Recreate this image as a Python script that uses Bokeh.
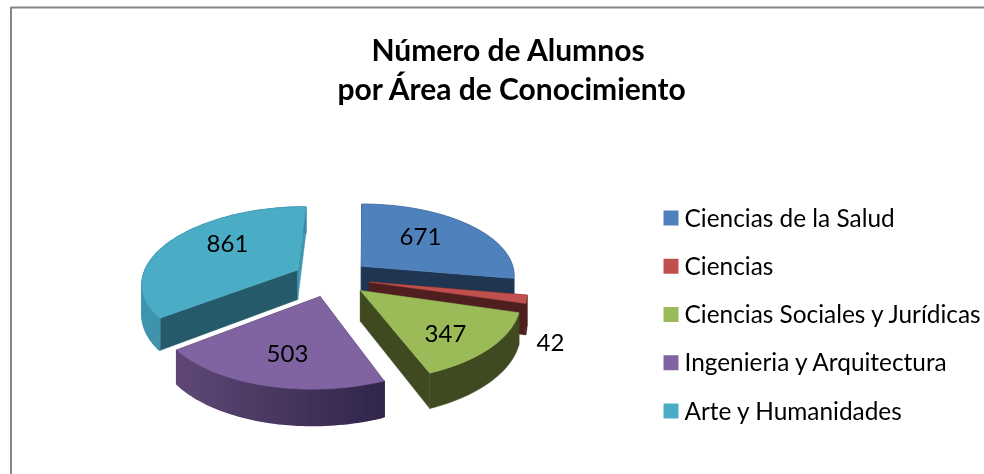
import math
from bokeh.plotting import figure
from bokeh.embed import file_html
from bokeh.resources import INLINE
from bokeh.core.properties import value

title_lines = ["Número de Alumnos", "por Área de Conocimiento"]
categories = ["Ciencias de la Salud", "Ciencias", "Ciencias Sociales y Jurídicas",
              "Ingenieria y Arquitectura", "Arte y Humanidades"]
values = [671, 42, 347, 503, 861]
top_colors = ["#4F81BD", "#C0504D", "#9BBB59", "#8064A2", "#4BACC6"]
face_colors = ["#1F3552", "#4F1F1F", "#404A21", "#3A2C4C", "#255A6A"]
rim_left = ["#1F3552", "#4F1F1F", "#404A21", "#5F4876", "#3F95AD"]
rim_right = ["#1F3552", "#4F1F1F", "#404A21", "#31254A", "#3A8AA0"]
label_xy = [(420, 236), (550, 342), (445, 333), (287, 353), (227, 243)]

W, H = 984, 474
p = figure(width=W, height=H, x_range=(0, W), y_range=(H, 0), output_backend="svg",
           toolbar_location=None, min_border=0, outline_line_color=None,
           background_fill_color="white", border_fill_color="white",
           styles={"position": "fixed", "left": "0px", "top": "0px"})
p.axis.visible = False
p.grid.visible = False

CX, CY, VX, RX, RY, K, EX, EY, DEPTH = 331, 277.5, 365, 155, 74, 0.14, 0.25, 0.25, 30


def proj(px, pv):
    s = 1 / (1 + K * pv)
    return VX + (CX - VX + RX * px) * s, CY - RY * pv * s, s


total = sum(values)
starts, a = [], 0.0
for v in values:
    starts.append(a)
    a += v / total * 2 * math.pi


def mix(c1, c2, t):
    a1 = [int(c1[i:i + 2], 16) for i in (1, 3, 5)]
    a2 = [int(c2[i:i + 2], 16) for i in (1, 3, 5)]
    return "#%02X%02X%02X" % tuple(round(x + (y - x) * t) for x, y in zip(a1, a2))


def draw(i):
    t1 = starts[i]
    t2 = t1 + values[i] / total * 2 * math.pi
    mid = (t1 + t2) / 2
    ox, ov = EX * math.sin(mid), EY * math.cos(mid)
    n = max(4, int((t2 - t1) * 40))
    rim = []
    for j in range(n + 1):
        t = t1 + (t2 - t1) * j / n
        rim.append(proj(ox + math.sin(t), ov + math.cos(t)))
    ax, ay, asc = proj(ox, ov)
    # cut faces
    for e in (rim[0], rim[-1]):
        col = face_colors[i]
        if i == 4 and e is rim[-1]:
            col = "#3F97B0"
        p.patch([ax, e[0], e[0], ax],
                [ay, e[1], e[1] + DEPTH * e[2], ay + DEPTH * asc],
                fill_color=col, line_color=col, line_width=0.5)
    # outer wall
    xmin, xmax = min(r[0] for r in rim), max(r[0] for r in rim)
    if rim_left[i] == rim_right[i]:
        xs = [r[0] for r in rim] + [r[0] for r in reversed(rim)]
        ys = [r[1] for r in rim] + [r[1] + DEPTH * r[2] for r in reversed(rim)]
        p.patch(xs, ys, fill_color=rim_left[i], line_color=rim_left[i], line_width=0.5)
    else:
        for j in range(n):
            r1, r2 = rim[j], rim[j + 1]
            c = mix(rim_left[i], rim_right[i], ((r1[0] + r2[0]) / 2 - xmin) / (xmax - xmin))
            p.patch([r1[0], r2[0], r2[0], r1[0]],
                    [r1[1], r2[1], r2[1] + DEPTH * r2[2], r1[1] + DEPTH * r1[2]],
                    fill_color=c, line_color=c, line_width=1.5)
    # top
    p.patch([ax] + [r[0] for r in rim], [ay] + [r[1] for r in rim],
            fill_color=top_colors[i], line_color=top_colors[i], line_width=0.5)


for i in (4, 0, 1, 2, 3):
    draw(i)

# frame
p.line([10.5, 10.5, W], [H, 7, 7], line_color="#868686", line_width=2)

# title
p.text([508], [48], text=[title_lines[0]], text_font=value("Lato"), text_font_style="bold",
       text_font_size="30px", text_align="center", text_baseline="middle", text_color="black")
p.text([512], [87], text=[title_lines[1]], text_font=value("Lato"), text_font_style="bold",
       text_font_size="30px", text_align="center", text_baseline="middle", text_color="black")

# value labels
p.text([c[0] for c in label_xy], [c[1] for c in label_xy], text=[str(v) for v in values],
       text_font=value("Lato"), text_font_size="24px", text_align="center",
       text_baseline="middle", text_color="black")

# legend
for k, (name, col) in enumerate(zip(categories, top_colors)):
    y = 217.5 + 48.25 * k
    p.quad(left=[663], right=[678], top=[y - 7.5], bottom=[y + 7.5], fill_color=col, line_color=col, line_width=0)
    p.text([684], [y - 1], text=[name], text_font=value("Lato"), text_font_size="24.4px",
           text_align="left", text_baseline="middle", text_color="black")

open("out.html", "w").write(file_html(p, INLINE))
